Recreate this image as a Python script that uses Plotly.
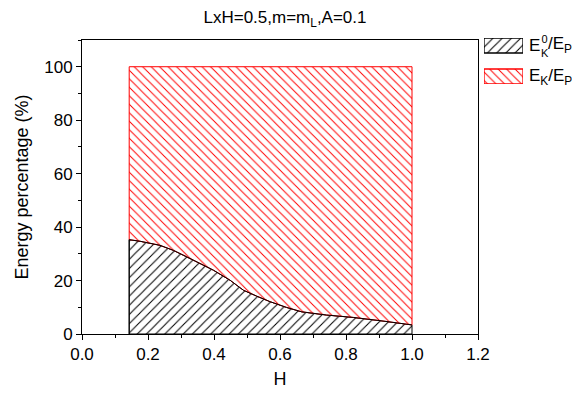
import plotly.graph_objects as go

H = [0.143, 0.176, 0.236, 0.277, 0.317, 0.358, 0.398, 0.449, 0.489, 0.529,
     0.570, 0.620, 0.666, 0.741, 0.822, 0.903, 1.0]
EK0 = [35.3, 34.7, 33.2, 31.3, 28.9, 26.4, 23.9, 20.1, 16.4, 14.2,
       12.1, 9.95, 8.3, 7.1, 6.2, 5.0, 3.4]
TOTAL = 100

W, HT = 572, 394
ML, MB = 82, 60
PW, PH = W - ML, HT - MB  # plotting area (r=0, t=0)
PLOT_RIGHT, PLOT_TOP = 478, 40

def fx(px):
    return (px - ML) / PW

def fy(py):
    return (HT - MB - py) / PH

black_pat = dict(shape="/", fgcolor="black", bgcolor="white", size=6.5, solidity=0.16, fgopacity=1)
red_pat = dict(shape="\\", fgcolor="red", bgcolor="white", size=6, solidity=0.16, fgopacity=1)

fig = go.Figure()

# black region: E_K^0/E_P
xb = [H[0]] + H + [H[-1], H[0]]
yb = [0] + EK0 + [0, 0]
fig.add_trace(go.Scatter(x=xb, y=yb, mode="lines", fill="toself",
                         line=dict(color="black", width=1), fillcolor="white",
                         fillpattern=black_pat, showlegend=False, hoverinfo="skip"))
# red region: E_K/E_P
xr = H + H[::-1] + [H[0]]
yr = EK0 + [TOTAL] * len(H) + [EK0[0]]
fig.add_trace(go.Scatter(x=xr, y=yr, mode="lines", fill="toself",
                         line=dict(color="red", width=1), fillcolor="white",
                         fillpattern=red_pat, showlegend=False, hoverinfo="skip"))
fig.add_trace(go.Scatter(x=H, y=EK0, mode="lines", line=dict(color="black", width=1),
                         showlegend=False, hoverinfo="skip"))
fig.add_trace(go.Scatter(x=[H[0], H[0]], y=[0, EK0[0]], mode="lines",
                         line=dict(color="black", width=1), showlegend=False, hoverinfo="skip"))

# legend swatches drawn in a hidden helper axis (units = pixels)
SW = [0, 39]
for (y0, y1), pat, col in [((31, 46), black_pat, "black"), ((0, 15), red_pat, "red")]:
    fig.add_trace(go.Scatter(x=[SW[0], SW[1], SW[1], SW[0], SW[0]], y=[y0, y0, y1, y1, y0],
                             mode="lines", fill="toself", line=dict(color=col, width=1.3),
                             fillcolor="white", fillpattern=pat, xaxis="x2", yaxis="y2",
                             showlegend=False, hoverinfo="skip"))

font = "Liberation Sans, Arial, sans-serif"
fig.update_layout(
    width=W, height=HT,
    margin=dict(l=ML, r=0, t=0, b=MB, pad=0, autoexpand=False),
    paper_bgcolor="white", plot_bgcolor="white",
    font=dict(family=font, size=17, color="black"),
    title=dict(text="LxH=0.5,m=m<sub>L</sub>,A=0.1", xref="container", x=285 / W, xanchor="center",
               yref="container", y=1 - 17 / HT, yanchor="middle", font=dict(size=17)),
    showlegend=False,
    xaxis=dict(
        domain=[0, fx(PLOT_RIGHT)], anchor="y", automargin=False,
        range=[0, 1.2], dtick=0.2, tick0=0, tickformat=".1f",
        showline=True, linecolor="black", linewidth=1, mirror=True,
        ticks="outside", ticklen=5, tickcolor="black",
        minor=dict(ticks="outside", ticklen=3, dtick=0.1, tickcolor="black"),
        showgrid=False, zeroline=False,
        title=dict(text="H", font=dict(size=18), standoff=8),
    ),
    yaxis=dict(
        domain=[0, fy(PLOT_TOP)], anchor="x", automargin=False,
        range=[0, 110], dtick=20, tick0=0,
        showline=True, linecolor="black", linewidth=1, mirror=True,
        ticks="outside", ticklen=5, tickcolor="black",
        minor=dict(ticks="outside", ticklen=3, dtick=10, tickcolor="black"),
        showgrid=False, zeroline=False,
        title=dict(text="Energy percentage (%)", font=dict(size=18), standoff=10),
    ),
    xaxis2=dict(domain=[fx(484), fx(523)], range=SW, visible=False, anchor="y2",
                fixedrange=True, automargin=False),
    yaxis2=dict(domain=[fy(84), fy(38)], range=[0, 46], visible=False, anchor="x2",
                fixedrange=True, automargin=False),
)

# legend texts: E_K^0/E_P built from pieces so sub/superscript stack
fig.add_annotation(text="E", xref="paper", yref="paper", x=fx(527), y=fy(45),
                   xanchor="left", yanchor="middle", showarrow=False, font=dict(size=17))
fig.add_annotation(text="0<br>K", xref="paper", yref="paper", x=fx(539), y=fy(46),
                   xanchor="left", yanchor="middle", showarrow=False, font=dict(size=11))
fig.add_annotation(text="/E<sub>P</sub>", xref="paper", yref="paper", x=fx(546), y=fy(45),
                   xanchor="left", yanchor="middle", showarrow=False, font=dict(size=17))
fig.add_annotation(text="E<sub>K</sub>/E<sub>P</sub>", xref="paper", yref="paper", x=fx(527), y=fy(77),
                   xanchor="left", yanchor="middle", showarrow=False, font=dict(size=17))

fig.write_html("out.html")
